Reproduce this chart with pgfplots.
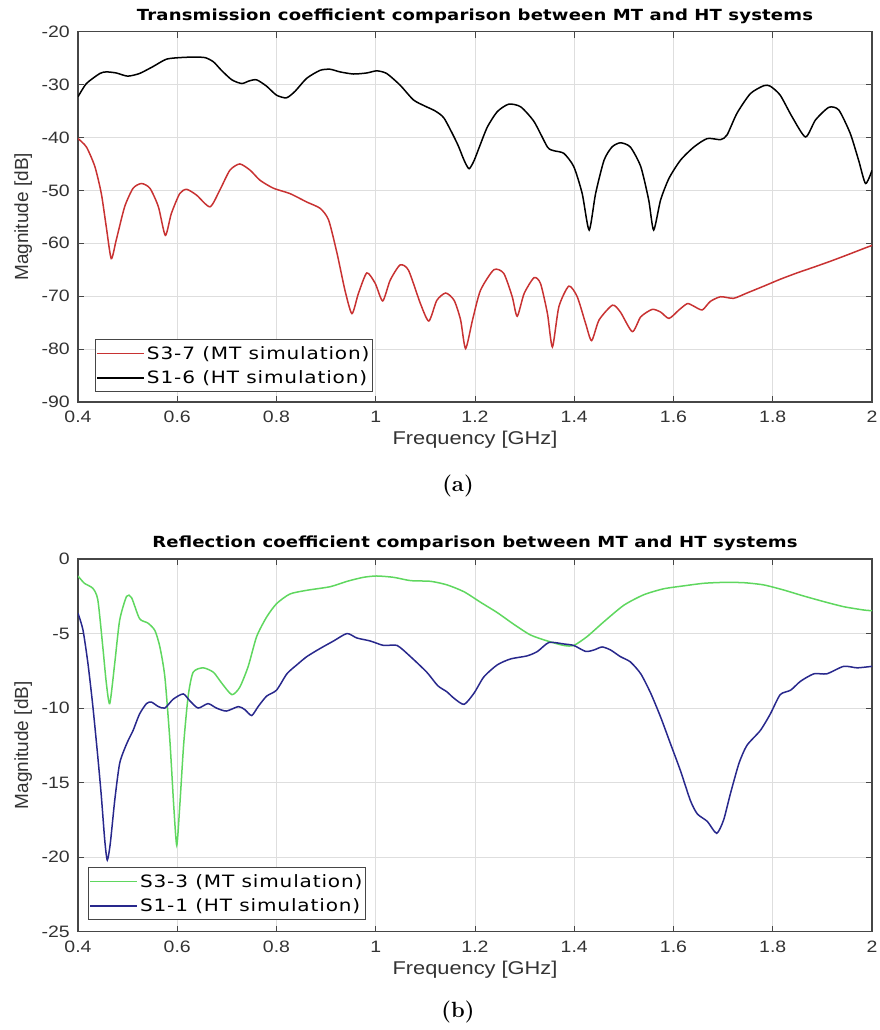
\documentclass[border=0pt]{standalone}
\usepackage{fontspec}
\usepackage{pgfplots}
\pgfplotsset{compat=1.18}
\newfontfamily\tickfont[FakeStretch=1.18]{Liberation Sans}
\newfontfamily\ylabfont{Liberation Sans}
\newfontfamily\legfont[FakeStretch=1.18,LetterSpace=5]{DejaVu Sans}
\newfontfamily\titfont[FakeStretch=1.18,LetterSpace=1]{DejaVu Sans}
\definecolor{cred}{RGB}{200,50,50}
\definecolor{cgreen}{RGB}{95,215,95}
\definecolor{cblue}{RGB}{40,40,140}
\definecolor{axgray}{RGB}{70,70,70}
\pgfplotsset{
  mystyle/.style={
    scale only axis, width=794pt,
    xmin=0.4, xmax=2,
    xtick={0.4,0.6,...,2.01},
    xticklabels={0.4,0.6,0.8,1,1.2,1.4,1.6,1.8,2},
    xtick pos=both, ytick pos=both,
    xticklabel pos=lower, yticklabel pos=left,
    tick align=inside, major tick length=6pt,
    grid=major, major grid style={line width=0.8pt, black!13},
    axis line style={axgray, line width=1.1pt},
    every tick/.style={axgray, line width=1pt},
    tick label style={font=\tickfont\fontsize{16.5}{18}\selectfont, text=black!80},
    xticklabel style={anchor=base, yshift=-21pt, inner sep=0pt},
    yticklabel style={anchor=east, xshift=-8pt, inner sep=0pt},
    every axis x label/.style={at={(axis description cs:0.5,0)}, anchor=base, yshift=-43pt, font=\tickfont\fontsize{18.5}{20}\selectfont, text=black!80},
    every axis y label/.style={at={(axis description cs:-0.069,0.5)}, rotate=90, anchor=center, font=\ylabfont\fontsize{19}{21}\selectfont, text=black!80},
    xlabel={Frequency [GHz]}, ylabel={Magnitude [dB]},
    title style={at={(axis description cs:0.5,1)}, anchor=base, yshift=5.5pt, font=\titfont\bfseries\fontsize{15.3}{17}\selectfont},
    legend cell align=left,
    legend image code/.code={\draw[#1, line width=1.5pt] (0pt,0pt) -- (47pt,0pt);},
    legend style={font=\legfont\fontsize{17}{19}\selectfont, draw=axgray, line width=1pt, inner xsep=1pt, inner ysep=4.5pt, row sep=6pt},
  }
}
\pgfplotstableread{
x y
0.400 -32.3
0.417 -29.8
0.444 -27.9
0.457 -27.6
0.477 -27.8
0.500 -28.4
0.524 -27.9
0.551 -26.6
0.578 -25.2
0.605 -24.9
0.632 -24.8
0.656 -24.9
0.673 -25.7
0.689 -27.3
0.710 -29.1
0.730 -29.8
0.745 -29.3
0.760 -29.1
0.780 -30.3
0.800 -32.0
0.820 -32.5
0.837 -31.3
0.861 -28.8
0.888 -27.3
0.908 -27.1
0.928 -27.6
0.955 -28.0
0.982 -27.8
1.002 -27.4
1.022 -27.9
1.049 -30.1
1.076 -32.9
1.100 -34.1
1.120 -35.0
1.138 -36.4
1.164 -41.1
1.178 -44.3
1.188 -45.9
1.198 -44.4
1.210 -41.5
1.225 -38.0
1.245 -35.1
1.268 -33.7
1.292 -34.2
1.319 -37.0
1.346 -41.8
1.359 -42.5
1.379 -43.0
1.399 -45.5
1.416 -50.6
1.430 -57.5
1.443 -50.6
1.460 -44.3
1.476 -41.8
1.493 -41.0
1.513 -41.8
1.534 -45.5
1.550 -51.8
1.560 -57.5
1.574 -51.8
1.591 -47.7
1.614 -44.3
1.641 -41.8
1.668 -40.2
1.695 -40.4
1.708 -39.5
1.728 -35.4
1.755 -31.7
1.782 -30.2
1.795 -30.3
1.815 -32.0
1.839 -36.1
1.866 -39.9
1.886 -36.7
1.913 -34.3
1.933 -34.8
1.956 -39.2
1.973 -44.3
1.987 -48.7
2.000 -46.2
}\sonesix
\pgfplotstableread{
x y
0.400 -40.2
0.417 -41.8
0.434 -45.5
0.447 -50.6
0.457 -56.9
0.467 -62.9
0.477 -59.4
0.494 -53.1
0.511 -49.6
0.528 -48.7
0.545 -49.6
0.562 -53.1
0.576 -58.5
0.588 -54.4
0.605 -50.6
0.619 -49.8
0.639 -50.9
0.666 -53.1
0.686 -49.9
0.706 -46.2
0.726 -45.0
0.747 -46.2
0.767 -48.1
0.794 -49.6
0.827 -50.6
0.861 -52.2
0.888 -53.4
0.905 -55.6
0.922 -61.9
0.938 -68.9
0.952 -73.3
0.965 -69.5
0.982 -65.6
0.999 -67.6
1.014 -70.9
1.029 -67.0
1.049 -64.1
1.066 -65.1
1.090 -71.4
1.107 -74.7
1.123 -70.8
1.141 -69.4
1.158 -70.8
1.171 -74.5
1.181 -79.9
1.195 -74.5
1.211 -68.9
1.238 -65.0
1.258 -65.7
1.275 -70.1
1.285 -73.8
1.299 -69.5
1.319 -66.5
1.332 -67.6
1.346 -73.3
1.356 -79.6
1.369 -72.0
1.389 -68.1
1.406 -70.1
1.423 -75.2
1.435 -78.4
1.450 -74.5
1.477 -71.7
1.493 -73.0
1.517 -76.7
1.534 -73.9
1.557 -72.5
1.574 -73.0
1.591 -74.2
1.611 -72.6
1.628 -71.4
1.641 -71.9
1.658 -72.6
1.674 -71.0
1.695 -70.1
1.721 -70.4
1.748 -69.4
1.782 -68.1
1.815 -66.8
1.849 -65.6
1.883 -64.5
1.916 -63.4
1.950 -62.2
1.983 -61.0
2.000 -60.4
}\sthreeseven
\pgfplotstableread{
x y
0.400 -1.14
0.413 -1.63
0.430 -1.97
0.440 -2.75
0.450 -5.9
0.457 -8.3
0.464 -9.7
0.474 -7.0
0.484 -4.1
0.498 -2.5
0.508 -2.6
0.524 -4.0
0.541 -4.3
0.555 -4.8
0.565 -5.9
0.575 -7.9
0.585 -12.1
0.593 -16.6
0.599 -19.2
0.605 -16.6
0.613 -12.4
0.622 -9.2
0.632 -7.6
0.652 -7.3
0.673 -7.6
0.689 -8.3
0.710 -9.1
0.726 -8.6
0.743 -7.2
0.760 -5.2
0.780 -3.9
0.800 -3.0
0.827 -2.35
0.861 -2.1
0.908 -1.86
0.942 -1.5
0.975 -1.23
1.002 -1.14
1.036 -1.23
1.070 -1.45
1.111 -1.50
1.144 -1.74
1.178 -2.2
1.211 -2.9
1.245 -3.6
1.279 -4.4
1.312 -5.1
1.346 -5.5
1.379 -5.8
1.399 -5.8
1.426 -5.2
1.460 -4.2
1.500 -3.1
1.540 -2.4
1.580 -2.0
1.621 -1.8
1.661 -1.63
1.701 -1.57
1.742 -1.59
1.782 -1.74
1.822 -2.08
1.862 -2.48
1.903 -2.86
1.943 -3.2
1.983 -3.42
2.000 -3.47
}\sthreethree
\pgfplotstableread{
x y
0.400 -3.64
0.410 -4.76
0.420 -7.0
0.430 -9.9
0.440 -13.3
0.447 -15.9
0.454 -18.9
0.459 -20.2
0.465 -19.1
0.474 -16.2
0.484 -13.7
0.498 -12.4
0.511 -11.5
0.524 -10.4
0.538 -9.7
0.548 -9.6
0.562 -9.9
0.575 -10.0
0.592 -9.4
0.612 -9.05
0.625 -9.5
0.642 -10.0
0.662 -9.7
0.679 -10.0
0.699 -10.2
0.723 -9.9
0.736 -10.1
0.750 -10.5
0.763 -9.9
0.780 -9.2
0.800 -8.8
0.821 -7.7
0.841 -7.1
0.861 -6.55
0.888 -6.0
0.915 -5.5
0.942 -5.0
0.962 -5.3
0.989 -5.5
1.016 -5.8
1.043 -5.8
1.070 -6.55
1.103 -7.6
1.125 -8.5
1.143 -8.9
1.158 -9.35
1.178 -9.75
1.198 -9.0
1.218 -7.9
1.245 -7.1
1.272 -6.7
1.305 -6.5
1.326 -6.2
1.349 -5.6
1.379 -5.7
1.399 -5.8
1.423 -6.2
1.440 -6.1
1.456 -5.9
1.473 -6.1
1.493 -6.55
1.513 -6.9
1.534 -7.7
1.554 -9.0
1.574 -10.6
1.594 -12.4
1.614 -14.2
1.634 -16.2
1.648 -17.1
1.668 -17.6
1.687 -18.4
1.701 -17.5
1.715 -15.7
1.732 -13.7
1.748 -12.5
1.775 -11.5
1.795 -10.4
1.815 -9.1
1.836 -8.8
1.856 -8.2
1.883 -7.7
1.909 -7.7
1.943 -7.2
1.970 -7.3
2.000 -7.2
}\soneone
\begin{document}
\begin{tikzpicture}
\useasboundingbox (0,0) rectangle (879pt,1030pt);
\begin{axis}[mystyle,
  at={(78pt,628pt)}, anchor=south west, height=370.3pt,
  ymin=-90, ymax=-20, ytick={-90,-80,...,-20},
  yticklabels={-90,-80,-70,-60,-50,-40,-30,-20},
  title={Transmission coefficient comparison between MT and HT systems},
  legend style={at={(axis description cs:0.0214,0.027)}, anchor=south west},
]
\addplot[cred, line width=1.5pt, smooth, tension=0.4] table[x=x,y=y]{\sthreeseven};
\addlegendentry{S3-7 (MT simulation)}
\addplot[black, line width=1.5pt, smooth, tension=0.4] table[x=x,y=y]{\sonesix};
\addlegendentry{S1-6 (HT simulation)}
\end{axis}
\node[font=\bfseries\fontsize{22}{24}\selectfont] at (458pt,544pt) {(a)};
\begin{axis}[mystyle,
  at={(78pt,98.3pt)}, anchor=south west, height=372.7pt,
  ymin=-25, ymax=0, ytick={-25,-20,...,0},
  yticklabels={-25,-20,-15,-10,-5,0},
  title={Reflection coefficient comparison between MT and HT systems},
  legend style={at={(axis description cs:0.0126,0.0314)}, anchor=south west},
]
\addplot[cgreen, line width=1.5pt, smooth, tension=0.4] table[x=x,y=y]{\sthreethree};
\addlegendentry{S3-3 (MT simulation)}
\addplot[cblue, line width=1.5pt, smooth, tension=0.4] table[x=x,y=y]{\soneone};
\addlegendentry{S1-1 (HT simulation)}
\end{axis}
\node[font=\bfseries\fontsize{22}{24}\selectfont] at (458pt,18pt) {(b)};
\end{tikzpicture}
\end{document}
